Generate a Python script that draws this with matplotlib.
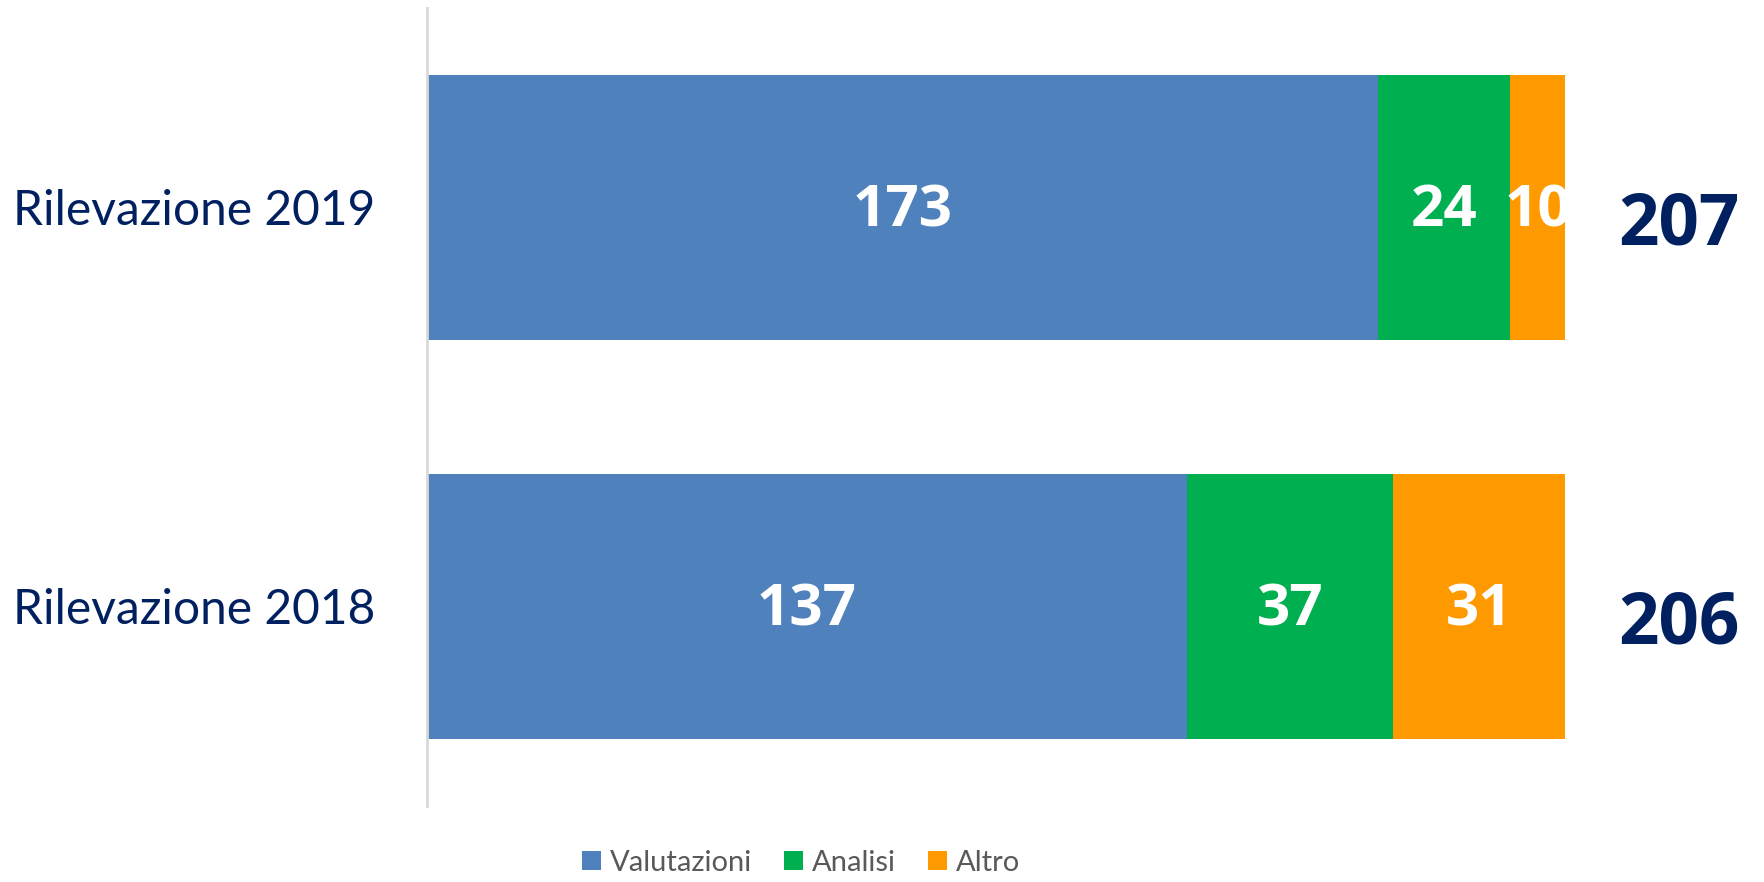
import matplotlib.pyplot as plt
import numpy as np

plt.rcParams['font.family'] = ['Lato', 'DejaVu Sans']

categories = ["Rilevazione 2018", "Rilevazione 2019"]
series = ["Valutazioni", "Analisi", "Altro"]
valutazioni = [137, 173]
analisi = [37, 24]
altro = [31, 10]
totals = [206, 207]

colors = ["#4F81BD", "#00B050", "#FF9900"]
navy = "#002060"
num_font = ['Open Sans', 'DejaVu Sans']

fig = plt.figure(figsize=(17.65, 8.82), dpi=100)
ax = fig.add_axes([0.2417, 0.0862, 0.645, 0.905])

data = np.array([valutazioni, analisi, altro], dtype=float)
shares = data / data.sum(axis=0)
y = np.arange(len(categories))

left = np.zeros(len(categories))
for i, name in enumerate(series):
    bars = ax.barh(y, shares[i], left=left, height=0.665, color=colors[i],
                   label=name, edgecolor='none')
    for j, b in enumerate(bars):
        ax.text(left[j] + shares[i][j] / 2, y[j] - 0.01, str(int(data[i][j])),
                ha='center', va='center', color='white', fontsize=42,
                fontweight='bold', family=num_font)
    left += shares[i]

# totals sit a bit below the bar centre
for j, t in enumerate(totals):
    ax.text(1.1, y[j] - 0.045, str(t), ha='center', va='center', color=navy,
            fontsize=51, fontweight='bold', family=num_font, clip_on=False)

ax.set_xlim(0, 1)
ax.set_ylim(-0.5, 1.5)
ax.set_yticks(y)
ax.set_yticklabels(categories, color=navy, fontsize=34.5)
ax.tick_params(axis='y', length=0, pad=37)
ax.set_xticks([])
for s in ['top', 'right', 'bottom']:
    ax.spines[s].set_visible(False)
ax.spines['left'].set_color('#D9D9D9')
ax.spines['left'].set_linewidth(2)

handles, labels = ax.get_legend_handles_labels()
leg = fig.legend(handles, labels, loc='center', bbox_to_anchor=(0.454, 0.022),
                 ncol=3, frameon=False, fontsize=21, handlelength=0.65,
                 handleheight=0.65, handletextpad=0.3, columnspacing=1.1)
for t in leg.get_texts():
    t.set_color('#595959')

fig.savefig("out.png", dpi=100)
